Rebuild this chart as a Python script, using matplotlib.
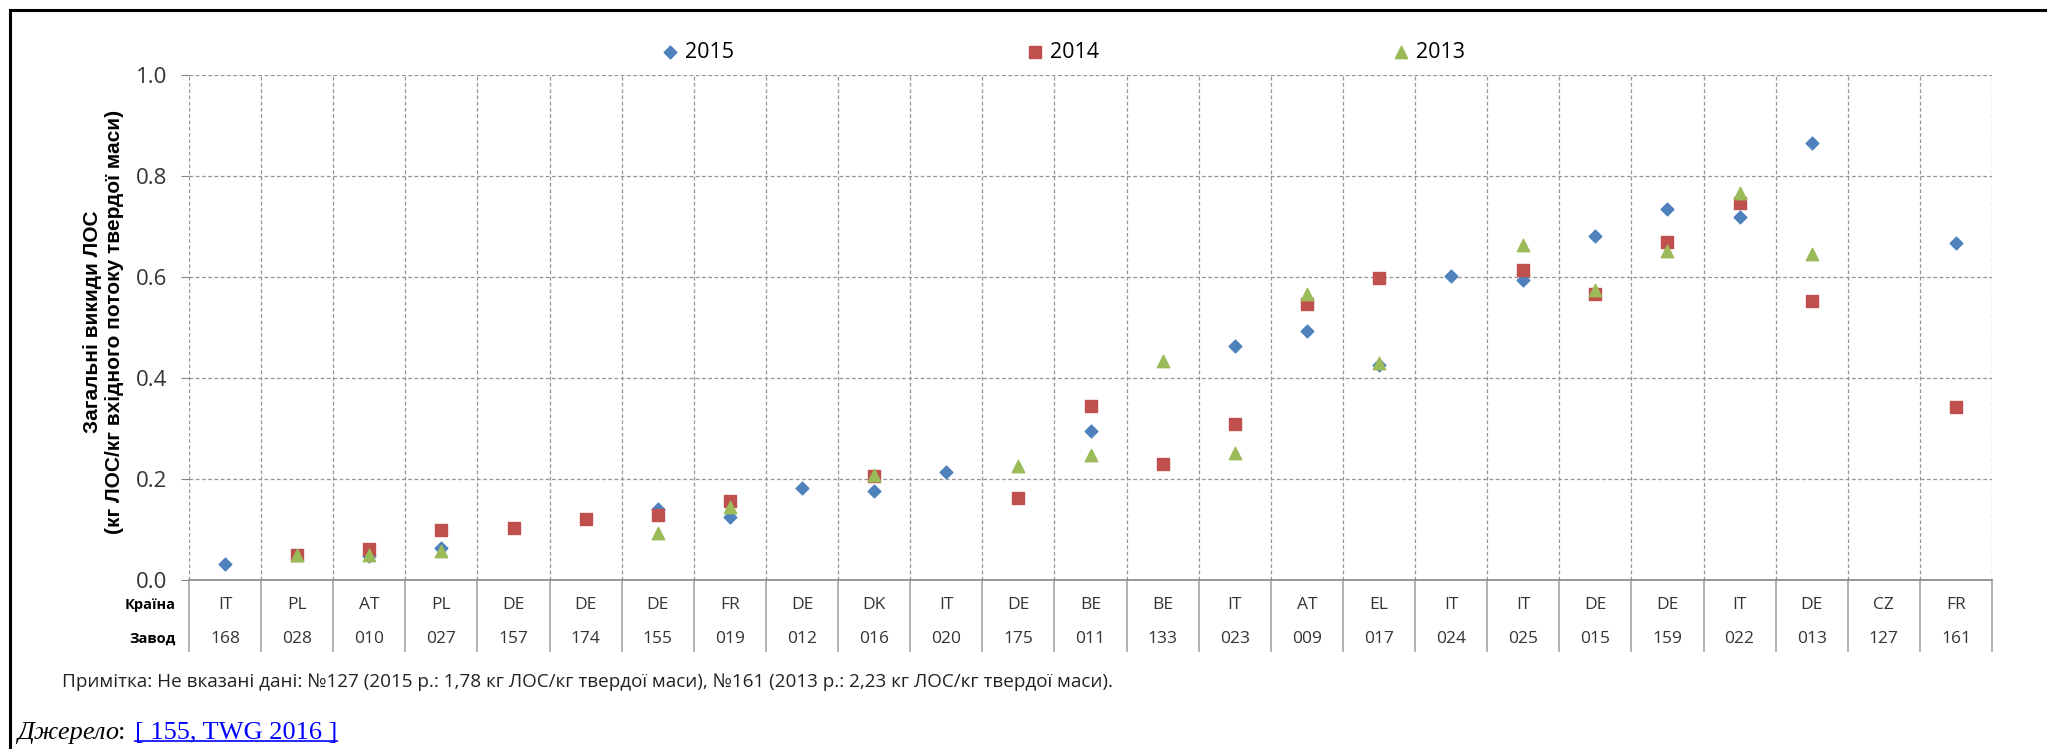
import numpy as np
import matplotlib
matplotlib.use("Agg")
from matplotlib import pyplot as plt
from matplotlib.lines import Line2D

nan = np.nan

countries = ["IT", "PL", "AT", "PL", "DE", "DE", "DE", "FR", "DE", "DK", "IT", "DE", "BE",
             "BE", "IT", "AT", "EL", "IT", "IT", "DE", "DE", "IT", "DE", "CZ", "FR"]
plants = ["168", "028", "010", "027", "157", "174", "155", "019", "012", "016", "020", "175", "011",
          "133", "023", "009", "017", "024", "025", "015", "159", "022", "013", "127", "161"]

y2015 = [0.031, nan, 0.047, 0.064, nan, nan, 0.140, 0.125, 0.182, 0.177, 0.214, nan, 0.295,
         nan, 0.464, 0.494, 0.425, 0.602, 0.595, 0.681, 0.734, 0.718, 0.866, nan, 0.667]
y2014 = [nan, 0.050, 0.061, 0.099, 0.103, 0.120, 0.128, 0.157, nan, 0.206, nan, 0.162, 0.345,
         0.229, 0.308, 0.547, 0.599, nan, 0.614, 0.567, 0.670, 0.746, 0.553, nan, 0.342]
y2013 = [nan, 0.050, 0.049, 0.057, nan, nan, 0.093, 0.144, nan, 0.207, nan, 0.226, 0.248,
         0.434, 0.252, 0.566, 0.429, nan, 0.663, 0.574, 0.651, 0.767, 0.646, nan, nan]

note = ("Примітка: Не вказані дані: №127 (2015 р.: 1,78 кг ЛОС/кг твердої маси), "
        "№161 (2013 р.: 2,23 кг ЛОС/кг твердої маси).")

W, H = 2047, 749
sans = ["Open Sans", "DejaVu Sans"]
grid_col = "#959595"

fig = plt.figure(figsize=(W / 100, H / 100), dpi=100)
ax = fig.add_axes([189 / W, (H - 580) / H, (1992 - 189) / W, 505 / H])

x = np.arange(len(countries))
h1 = ax.scatter(x, y2015, marker="D", s=42, color="#4F81BD", zorder=3, label="2015")
h2 = ax.scatter(x, y2014, marker="s", s=80, color="#C0504D", zorder=4, label="2014")
h3 = ax.scatter(x, y2013, marker="^", s=80, color="#9BBB59", zorder=5, label="2013")

ax.set_xlim(-0.5, len(countries) - 0.5)
ax.set_ylim(0, 1.0)
ticks = np.arange(0, 1.01, 0.2)
ax.set_yticks(ticks)
ax.set_yticklabels(["%.1f" % v for v in ticks], family=sans, fontsize=16, color="#333333")
ax.set_xticks([])
ax.set_xticks(np.arange(-0.5, len(countries)), minor=True)
ax.tick_params(axis="x", which="minor", length=0)
ax.tick_params(axis="y", length=5.5, color="#868686", pad=10)
ax.set_axisbelow(True)
ax.yaxis.grid(True, linestyle=(0, (3, 2)), color=grid_col, lw=0.9)
ax.xaxis.grid(True, which="minor", linestyle=(0, (3, 2)), color=grid_col, lw=0.9)
for s in ["top", "right", "left"]:
    ax.spines[s].set_visible(False)
ax.spines["bottom"].set_color("#868686")
ax.spines["bottom"].set_linewidth(1.2)

# table under the axis
tr = ax.get_xaxis_transform()
ax.vlines(np.arange(-0.5, len(countries)), -0.1426, 0, transform=tr, clip_on=False,
          color="#a6a6a6", lw=1.2)
for i in x:
    ax.text(i, -0.05, countries[i], transform=tr, ha="center", va="center",
            family=sans, fontsize=12.5, color="#333333")
    ax.text(i, -0.117, plants[i], transform=tr, ha="center", va="center",
            family=sans, fontsize=12.5, color="#333333")
fig.text(176 / W, 1 - 605 / H, "Країна", ha="right", va="center", family=sans,
         weight="bold", fontsize=10.5)
fig.text(176 / W, 1 - 639 / H, "Завод", ha="right", va="center", family=sans,
         weight="bold", fontsize=10.5)

fig.text(104 / W, 1 - 322 / H,
         "Загальні викиди ЛОС\n(кг ЛОС/кг вхідного потоку твердої маси)",
         rotation=90, ha="center", va="center", multialignment="center",
         family=["Liberation Sans", "DejaVu Sans"], weight="bold", fontsize=15,
         linespacing=1.2)

fig.legend([h1, h2, h3], ["2015", "2014", "2013"], loc="center",
           bbox_to_anchor=(1063 / W, 1 - 52 / H), ncol=3, frameon=False,
           prop={"family": sans, "size": 15.5}, handlelength=0.8, handletextpad=0.3,
           columnspacing=13.6, scatterpoints=1)

fig.text(62 / W, 1 - 682 / H, note, va="center", family=sans, fontsize=13.6, color="#222222")

serif = ["Liberation Serif", "DejaVu Serif"]
fig.text(17 / W, 1 - 733 / H, "Джерело", va="center", family=serif, style="italic", fontsize=19)
fig.text(118 / W, 1 - 733 / H, ":", va="center", family=serif, fontsize=19)
link = fig.text(135 / W, 1 - 733 / H, "[ 155, TWG 2016 ]", va="center", family=serif,
                fontsize=19, color="#0000FF")

fig.canvas.draw()
bb = link.get_window_extent().transformed(fig.transFigure.inverted())
fig.add_artist(Line2D([bb.x0, bb.x1], [bb.y0 + 0.004, bb.y0 + 0.004],
                      transform=fig.transFigure, color="#0000FF", lw=1.2))

# page frame lines
fig.add_artist(Line2D([10 / W, 1], [1 - 10 / H, 1 - 10 / H], transform=fig.transFigure,
                      color="black", lw=2.2))
fig.add_artist(Line2D([10 / W, 10 / W], [0, 1 - 10 / H], transform=fig.transFigure,
                      color="black", lw=2.2))

fig.savefig("out.png", dpi=100)
